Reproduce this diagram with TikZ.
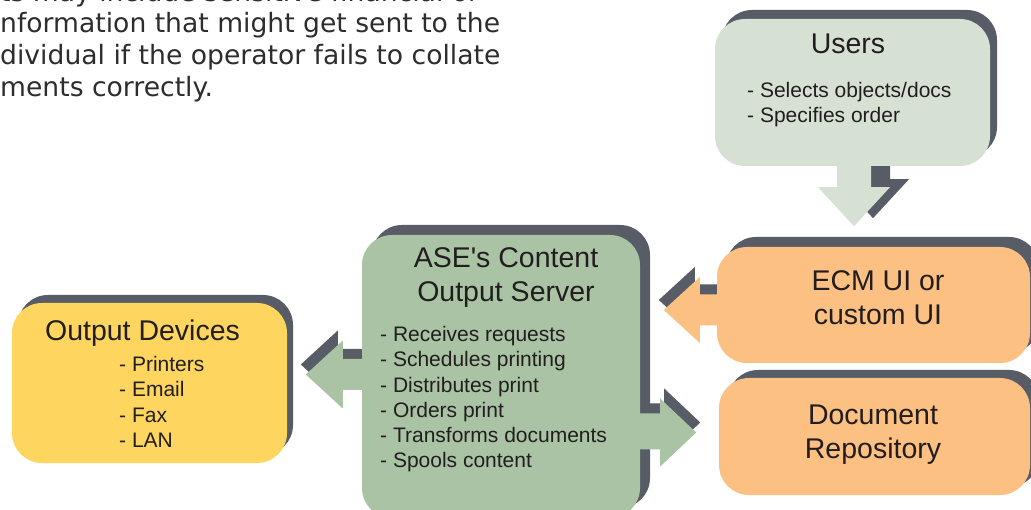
\documentclass[tikz,border=0pt]{standalone}
\usepackage{fontspec}
\setmainfont{Liberation Sans}
\newfontfamily\notefont{DejaVu Sans}
\usetikzlibrary{shadows,backgrounds}
\definecolor{shadowc}{HTML}{575C66}
\definecolor{usersc}{HTML}{D6E1D3}
\definecolor{serverc}{HTML}{A9C3A4}
\definecolor{orangec}{HTML}{FCC182}
\definecolor{yellowc}{HTML}{FDD55F}
\definecolor{textc}{HTML}{221E1F}
\definecolor{notec}{HTML}{2D2D2D}
\newcommand\downArrowPath{(-15.5,-5) -- (18.5,-5) -- (18.5,21) -- (37.5,21) -- (1.5,60) -- (-34.5,21) -- (-15.5,21) -- cycle}
\newcommand\ecmArrowPath{(5,-10.5) -- (-17,-10.5) -- (-17,-28) -- (-53,5) -- (-17,38) -- (-17,20.5) -- (5,20.5) -- cycle}
\newcommand\outArrowPath{(5,-17.5) -- (-19,-17.5) -- (-19,-36) -- (-56,-2) -- (-19,32) -- (-19,13.5) -- (5,13.5) -- cycle}
\newcommand\repoArrowPath{(0,37) -- (20,37) -- (20,22) -- (56,56) -- (20,90) -- (20,73) -- (0,73) -- cycle}
\begin{document}
\begin{tikzpicture}[x=1pt,y=-1pt,
  boxstyle/.style={rectangle, rounded corners=30pt, inner sep=0pt, draw=none},
  shadowed/.style 2 args={general shadow={shadow xshift=#1pt,shadow yshift=#2pt,fill=shadowc}},
  titletext/.style={font=\fontsize{28.5}{34.3}\selectfont, text=textc, align=center, inner sep=0pt, anchor=base},
  bullettext/.style={font=\fontsize{21}{25.15}\selectfont, text=textc, align=left, inner sep=0pt, anchor=base west},
  notetext/.style={font=\notefont\fontsize{26.6}{32}\selectfont, text=notec, inner sep=0pt, anchor=base west}]
\useasboundingbox (0,0) rectangle (1031,510);
\clip (0,0) rectangle (1031,510);

% boxes
\node[boxstyle, fill=usersc, minimum width=275pt, minimum height=147pt, shadowed={7}{9}] (users) at (852.5,92.5) {};
\node[boxstyle, fill=orangec, minimum width=313pt, minimum height=116pt, shadowed={9}{10}] (ecm) at (873.5,305) {};
\node[boxstyle, fill=orangec, minimum width=311pt, minimum height=117pt, shadowed={9}{8}] (repo) at (874.5,436.5) {};
\node[boxstyle, fill=serverc, minimum width=278pt, minimum height=283pt, shadowed={10}{10}] (server) at (501,376.5) {};
\node[boxstyle, fill=yellowc, minimum width=275pt, minimum height=160pt, shadowed={6}{8}] (output) at (149.5,383) {};

% arrows behind boxes
\begin{pgfonlayer}{background}
\fill[white] (0,0) rectangle (1031,510);
\begin{scope}[shift={(users.south)}]
  \fill[shadowc, shift={(19,-8)}] \downArrowPath;
  \fill[usersc] \downArrowPath;
\end{scope}
\begin{scope}[shift={(ecm.west)}]
  \fill[shadowc, shift={(-5,-10)}] \ecmArrowPath;
  \fill[orangec] \ecmArrowPath;
\end{scope}
\begin{scope}[shift={(server.west)}]
  \fill[shadowc, shift={(-5,-10)}] \outArrowPath;
  \fill[serverc] \outArrowPath;
\end{scope}
\end{pgfonlayer}
\begin{scope}[shift={(server.east)}]
  \fill[shadowc, shift={(4,-10)}] \repoArrowPath;
  \fill[serverc] \repoArrowPath;
\end{scope}

% texts (base anchor = baseline of the last line)
\node[titletext] (usersT) at (848,54) {Users};
\node[bullettext] (usersB) at (747,122.5) {- Selects objects/docs\\- Specifies order};
\node[titletext] (ecmT) at (878,325) {ECM UI or\\custom UI};
\node[titletext] (repoT) at (873,458.3) {Document\\Repository};
\node[titletext] (serverT) at (506,301.7) {ASE\textquotesingle s Content\\Output Server};
\node[bullettext] (serverB) at (380,467.5) {- Receives requests\\- Schedules printing\\- Distributes print\\- Orders print\\- Transforms documents\\- Spools content};
\node[titletext] (outputT) at (142.5,340.7) {Output Devices};
\node[bullettext] (outputB) at (119,447.2) {- Printers\\- Email\\- Fax\\- LAN};

% cropped note text
\node[notetext] (n1) at (0,2) {ts may include sensitive financial or};
\node[notetext] (n2) at (0,33) {nformation that might get sent to the};
\node[notetext] (n3) at (0,65) {dividual if the operator fails to collate};
\node[notetext] (n4) at (0,96.5) {ments correctly.};
\end{tikzpicture}
\end{document}
